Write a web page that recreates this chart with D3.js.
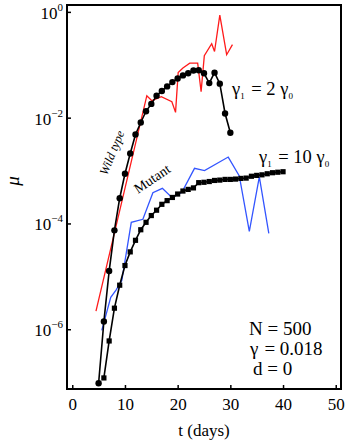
<!DOCTYPE html>
<html>
<head>
<meta charset="utf-8">
<script src="https://cdn.jsdelivr.net/npm/d3@7"></script>
<style>
  body { margin: 0; background: #fff; }
  text { font-family: "Liberation Serif", "DejaVu Serif", serif; }
</style>
</head>
<body>
<div id="chart"></div>
<script>
// wild type model (black circles), days and mu
var wildDays = [5, 6, 7, 8, 9, 10, 11, 12, 13, 14, 15, 16, 17, 18, 19, 20, 21, 22, 23, 24, 25, 26, 27, 28, 29, 30];
var wildMu = [9.5e-8, 1.4e-6, 1.26e-5, 7.4e-5, 3.0e-4, 8.7e-4, 2.1e-3, 4.8e-3, 8.1e-3, 1.32e-2, 1.82e-2, 2.6e-2, 3.2e-2,
  3.9e-2, 4.7e-2, 5.5e-2, 6.3e-2, 6.9e-2, 7.8e-2, 7.9e-2, 6.9e-2, 4.5e-2, 7.1e-2, 4.4e-2, 1.2e-2, 5.2e-3];
// wild type, red curve
var wildRedDays = [4.5, 14.15, 15.1, 16.9, 18.9, 19.6, 20.1, 21.0, 22.3, 23.8, 24.45, 25.06, 26.46, 27.0, 28.0, 29.3, 30.4];
var wildRedMu = [2.2e-6, 2.6e-2, 2.1e-2, 2.5e-2, 2.0e-2, 1.26e-2, 7.1e-2, 8.7e-2, 0.107, 0.107, 3.1e-2, 0.148, 0.25,
  0.178, 0.87, 0.155, 0.24];
// mutant model (black squares)
var mutDays = [6, 7, 8, 9, 10, 11, 12, 13, 14, 15, 16, 17, 18, 19, 20, 21, 22, 23, 24, 25, 26, 27, 28, 29, 30,
  31, 32, 33, 34, 35, 36, 37, 38, 39, 40];
var mutMu = [1.2e-7, 6.0e-7, 2.5e-6, 6.8e-6, 1.6e-5, 2.9e-5, 4.8e-5, 7.6e-5, 1.05e-4, 1.41e-4, 1.78e-4, 2.3e-4, 2.7e-4,
  3.1e-4, 3.6e-4, 4.1e-4, 4.4e-4, 4.7e-4, 5.9e-4, 6.0e-4, 6.2e-4, 6.5e-4, 6.6e-4, 6.8e-4, 6.8e-4,
  6.9e-4, 7.1e-4, 7.2e-4, 7.8e-4, 8.1e-4, 8.3e-4, 8.7e-4, 9.1e-4, 9.3e-4, 9.5e-4];
// mutant, blue curve
var mutBlueDays = [5.6, 7.3, 8.3, 9.4, 11.2, 13.4, 15.3, 17.1, 18.9, 20.8, 23.2, 25.1, 29.6, 31.7, 33.6, 35.5, 37.3];
var mutBlueMu = [9.5e-7, 4.0e-6, 5.5e-6, 8.3e-6, 1.05e-4, 1.2e-4, 3.8e-4, 4.6e-4, 3.1e-4, 3.9e-4, 1.1e-3, 1.0e-3,
  1.8e-3, 7.9e-4, 7.1e-5, 7.6e-4, 6.5e-5];

var xTicks = [0, 10, 20, 30, 40, 50];
var yTicks = [1, 1e-2, 1e-4, 1e-6];
var yTickExp = ['0', '\u22122', '\u22124', '\u22126'];

var width = 346;
var height = 441;
var margin = { top: 5, right: 5, bottom: 52, left: 67 };
var w = width - margin.left - margin.right;
var h = height - margin.top - margin.bottom;

var svg = d3.select('#chart').append('svg')
  .attr('width', width)
  .attr('height', height);

var g = svg.append('g')
  .attr('transform', 'translate(' + margin.left + ',' + margin.top + ')');

var x = d3.scaleLinear().domain([-1, 51]).range([0, w]);
var y = d3.scaleLog().domain([Math.pow(10, -7.13), Math.pow(10, 0.13)]).range([h, 0]);

function pairs(xs, ys) {
  return xs.map(function (d, i) { return [d, ys[i]]; });
}

var line = d3.line()
  .x(function (d) { return x(d[0]); })
  .y(function (d) { return y(d[1]); });

// coloured curves
g.append('path')
  .datum(pairs(wildRedDays, wildRedMu))
  .attr('fill', 'none')
  .attr('stroke', '#ff1a1a')
  .attr('stroke-width', 1.3)
  .attr('d', line);

g.append('path')
  .datum(pairs(mutBlueDays, mutBlueMu))
  .attr('fill', 'none')
  .attr('stroke', '#3355ff')
  .attr('stroke-width', 1.3)
  .attr('d', line);

// black model curves
var wild = pairs(wildDays, wildMu);
g.append('path')
  .datum(wild)
  .attr('fill', 'none')
  .attr('stroke', '#000')
  .attr('stroke-width', 1.6)
  .attr('d', line);
g.selectAll('circle.wild')
  .data(wild)
  .enter().append('circle')
  .attr('class', 'wild')
  .attr('cx', function (d) { return x(d[0]); })
  .attr('cy', function (d) { return y(d[1]); })
  .attr('r', 3.2)
  .attr('fill', '#000');

var mut = pairs(mutDays, mutMu);
g.append('path')
  .datum(mut)
  .attr('fill', 'none')
  .attr('stroke', '#000')
  .attr('stroke-width', 1.6)
  .attr('d', line);
g.selectAll('rect.mut')
  .data(mut)
  .enter().append('rect')
  .attr('class', 'mut')
  .attr('x', function (d) { return x(d[0]) - 2.6; })
  .attr('y', function (d) { return y(d[1]) - 2.6; })
  .attr('width', 5.2)
  .attr('height', 5.2)
  .attr('fill', '#000');

// frame
g.append('rect')
  .attr('width', w)
  .attr('height', h)
  .attr('fill', 'none')
  .attr('stroke', '#000')
  .attr('stroke-width', 2);

// x axis
var xAxis = g.append('g')
  .attr('transform', 'translate(0,' + h + ')')
  .call(d3.axisBottom(x).tickValues(xTicks).tickSize(-4).tickPadding(9).tickFormat(d3.format('d')));
xAxis.select('.domain').remove();
xAxis.selectAll('line').attr('stroke-width', 1.5);
xAxis.selectAll('text')
  .attr('font-size', 17)
  .attr('font-family', '"Liberation Serif", serif');

// y axis
var yAxis = g.append('g')
  .call(d3.axisLeft(y).tickValues(yTicks).tickSize(-4).tickFormat(''));
yAxis.select('.domain').remove();
yAxis.selectAll('line').attr('stroke-width', 1.5);

var yLab = g.selectAll('text.ylab')
  .data(yTicks)
  .enter().append('text')
  .attr('class', 'ylab')
  .attr('x', -4)
  .attr('y', function (d) { return y(d) + 7; })
  .attr('text-anchor', 'end')
  .attr('font-size', 17);
yLab.append('tspan').text('10');
yLab.append('tspan')
  .attr('dy', -8)
  .attr('font-size', 11)
  .text(function (d, i) { return yTickExp[i]; });

// axis titles
svg.append('text')
  .attr('x', 204)
  .attr('y', 436)
  .attr('text-anchor', 'middle')
  .attr('font-size', 17)
  .text('t (days)');

svg.append('text')
  .attr('transform', 'translate(19,181) rotate(-90)')
  .attr('text-anchor', 'middle')
  .attr('font-size', 19)
  .attr('font-style', 'italic')
  .text('\u03bc');

// curve labels
svg.append('text')
  .attr('transform', 'translate(107,176) rotate(-68)')
  .attr('font-size', 12.5)
  .attr('font-style', 'italic')
  .text('Wild type');

svg.append('text')
  .attr('transform', 'translate(138,194) rotate(-34)')
  .attr('font-size', 14)
  .text('Mutant');

function gammaLabel(xp, yp, k) {
  var t = svg.append('text')
    .attr('x', xp)
    .attr('y', yp)
    .attr('font-size', 18.5);
  t.append('tspan').text('\u03b3');
  t.append('tspan').attr('dy', 4).attr('font-size', 9).text('1');
  t.append('tspan').attr('dy', -4).attr('dx', 2).text(' = ' + k + ' \u03b3');
  t.append('tspan').attr('dy', 4).attr('font-size', 9).text('0');
}
gammaLabel(232, 95, 2);
gammaLabel(259, 163, 10);

// parameters
svg.append('text').attr('x', 249).attr('y', 335).attr('font-size', 19).text('N = 500');
var gp = svg.append('text').attr('x', 250).attr('y', 355).attr('font-size', 19);
gp.append('tspan').text('\u03b3');
gp.append('tspan').attr('dx', 6).text('= 0.018');
svg.append('text').attr('x', 253).attr('y', 375).attr('font-size', 19).text('d = 0');
</script>
</body>
</html>
